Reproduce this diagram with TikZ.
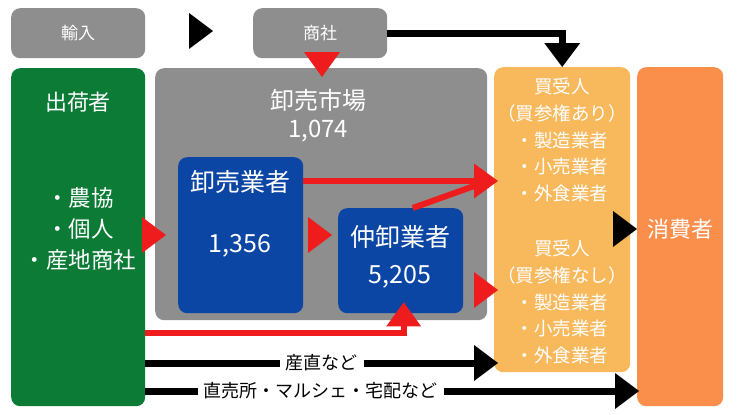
\documentclass[tikz,border=0pt]{standalone}
\usepackage{fontspec}
\setmainfont{Noto Sans CJK JP}
\usetikzlibrary{arrows.meta,calc}
\definecolor{cgray}{HTML}{8E8E8E}
\definecolor{cgreen}{HTML}{0B7B36}
\definecolor{cblue}{HTML}{0C46A5}
\definecolor{clorange}{HTML}{F8B95D}
\definecolor{corange}{HTML}{F98F4B}
\definecolor{cred}{HTML}{EE1C1C}
\begin{document}
\begin{tikzpicture}[x=1pt,y=-1pt,
  box/.style={rounded corners=9pt, anchor=north west, inner sep=0pt, draw=none},
  wtext/.style={text=white, inner sep=0pt, align=center},
  blkarrow/.style={line width=7pt, black, -{Triangle[length=24pt,width=36pt,line width=0pt]}},
  redarrow/.style={line width=6pt, cred, -{Triangle[length=24pt,width=35pt,line width=0pt]}},
  redline/.style={line width=6pt, cred},
  lbl/.style={fill=white, text=black, inner xsep=6pt, inner ysep=1pt, font=\fontsize{18}{18}\selectfont}]
\useasboundingbox (0,0) rectangle (739,415);

% boxes
\node[box, fill=cgray, minimum width=134pt, minimum height=50pt] (yunyu) at (11,8) {};
\node[box, fill=cgray, minimum width=134pt, minimum height=50pt] (shosha) at (253,8) {};
\node[box, fill=cgreen, minimum width=134pt, minimum height=338pt] (shukka) at (11,68) {};
\node[box, fill=cgray, minimum width=332pt, minimum height=252pt] (market) at (155,68) {};
\node[box, fill=cblue, minimum width=125pt, minimum height=156pt] (oroshi) at (178,157) {};
\node[box, fill=cblue, minimum width=125pt, minimum height=105pt] (naka) at (338,208) {};
\node[box, fill=clorange, minimum width=136pt, minimum height=305pt] (kaiuke) at (494,67) {};
\node[box, fill=corange, minimum width=86pt, minimum height=339pt] (shohi) at (637,67) {};

% texts
\node[wtext, font=\fontsize{17}{17}\selectfont] (yunyuT) at (yunyu.center) {輸入};
\node[wtext, font=\fontsize{17}{17}\selectfont] (shoshaT) at (shosha.center) {商社};
\node[wtext, font=\fontsize{22}{22}\selectfont] (shukkaT) at (78,102) {出荷者};
\node[wtext, font=\fontsize{22.5}{31}\selectfont] (shukkaL) at (80,229) {・農協\\・個人\\・産地商社};
\node[wtext, font=\fontsize{24}{24}\selectfont] (marketT) at (318,100) {卸売市場};
\node[wtext, font=\fontsize{24}{24}\selectfont] (marketN) at (318,131) {1,074};
\node[wtext, font=\fontsize{25}{25}\selectfont] (oroshiT) at (240,182) {卸売業者};
\node[wtext, font=\fontsize{25}{25}\selectfont] (oroshiN) at (240,246) {1,356};
\node[wtext, font=\fontsize{25}{25}\selectfont] (nakaT) at (400,237) {仲卸業者};
\node[wtext, font=\fontsize{25}{25}\selectfont] (nakaN) at (400,277) {5,205};
\node[wtext, font=\fontsize{18.5}{26.7}\selectfont] (kaiukeA) at (562,140) {買受人\\（買参権あり）\\・製造業者\\・小売業者\\・外食業者};
\node[wtext, font=\fontsize{18.5}{26.7}\selectfont] (kaiukeB) at (562,302) {買受人\\（買参権なし）\\・製造業者\\・小売業者\\・外食業者};
\node[wtext, font=\fontsize{22}{22}\selectfont] (shohiT) at (680,229) {消費者};

% arrow heads without lines
\fill[black] (213,31) -- ++(-24,-18) -- ++(0,36) -- cycle;
\fill[black] (637,229) -- ++(-24,-18) -- ++(0,36) -- cycle;
\fill[cred] (322,77) -- ++(-18,-25) -- ++(36,0) -- cycle;
\fill[cred] (166,235) -- ++(-24,-18) -- ++(0,36) -- cycle;
\fill[cred] (332,235) -- ++(-24,-18) -- ++(0,36) -- cycle;
\fill[cred] (498,290) -- ++(-24,-18) -- ++(0,36) -- cycle;

% connectors
\draw[blkarrow] (shosha.east) -| (kaiuke.north);
\draw[blkarrow] (shukka.east |- 0,363) -- ($(kaiuke.west |- 0,363)+(4,0)$)
  node[lbl, pos=0.5] (lbl1) {産直など};
\draw[blkarrow] (shukka.east |- 0,391) -- ($(shohi.west |- 0,391)+(2,0)$)
  node[lbl, pos=0.355] (lbl2) {直売所・マルシェ・宅配など};
\draw[redarrow] (shukka.east |- 0,333) -| ($(naka.south)+(3,-11)$);
\coordinate (join) at (477,185);
\draw[redline] ($(naka.north)+(12,0)$) -- (join);
\draw[redarrow] (oroshi.east |- 0,181) -- ($(kaiuke.west |- 0,181)+(4,0)$);
\end{tikzpicture}
\end{document}
